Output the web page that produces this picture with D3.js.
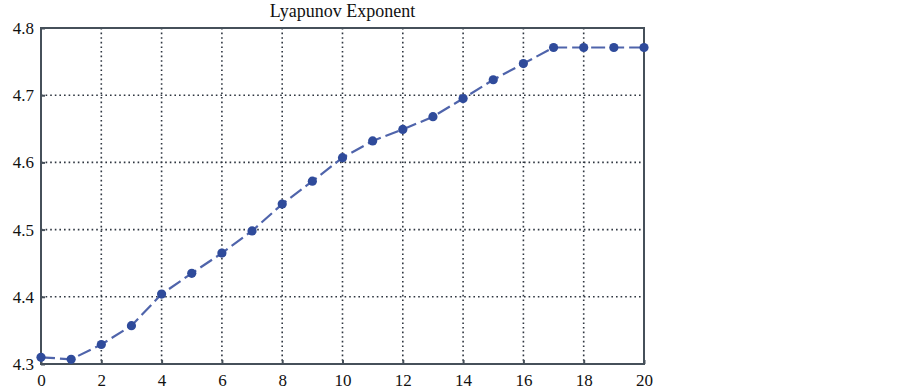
<!DOCTYPE html>
<html>
<head>
<meta charset="utf-8">
<script src="https://cdn.jsdelivr.net/npm/d3@7"></script>
<style>
  html, body { margin: 0; padding: 0; background: #fff; }
  svg { display: block; }
</style>
</head>
<body>
<div id="chart"></div>
<script>
(function () {
  "use strict";

  // ── Datos ─────────────────────────────────────────────
  const iterations = d3.range(0, 21);
  const lyapunov = [4.310, 4.307, 4.329, 4.357, 4.404, 4.435, 4.465, 4.498, 4.538, 4.572,
    4.607, 4.632, 4.649, 4.668, 4.695, 4.723, 4.747, 4.771, 4.771, 4.771, 4.771];
  const xTicks = [0, 2, 4, 6, 8, 10, 12, 14, 16, 18, 20];
  const yTicks = [4.3, 4.4, 4.5, 4.6, 4.7, 4.8];
  const title = "Lyapunov Exponent";

  // ── Setup SVG ─────────────────────────────────────────
  const width = 903, height = 389;
  const M = { top: 28, right: 259, bottom: 25, left: 41 };
  const innerW = width - M.left - M.right;
  const innerH = height - M.top - M.bottom;

  const svg = d3.select("#chart").append("svg").attr("width", width).attr("height", height);
  const g = svg.append("g").attr("transform", `translate(${M.left},${M.top})`);

  const x = d3.scaleLinear().domain([0, 20]).range([0, innerW]);
  const y = d3.scaleLinear().domain([4.3, 4.8]).range([innerH, 0]);

  const FONT = "'Liberation Serif', 'Times New Roman', serif";
  const AXIS_COL = "#46505a";

  // Rejilla punteada
  g.append("g").selectAll("line").data(xTicks.slice(1, -1)).join("line")
    .attr("x1", (d) => x(d)).attr("x2", (d) => x(d))
    .attr("y1", 0).attr("y2", innerH)
    .attr("stroke", "#2f3640").attr("stroke-width", 1.6).attr("stroke-dasharray", "1.6,3");
  g.append("g").selectAll("line").data(yTicks.slice(1, -1)).join("line")
    .attr("y1", (d) => y(d)).attr("y2", (d) => y(d))
    .attr("x1", 0).attr("x2", innerW)
    .attr("stroke", "#2f3640").attr("stroke-width", 1.6).attr("stroke-dasharray", "1.6,3");

  // Ejes
  const gx = g.append("g").attr("transform", `translate(0,${innerH})`)
    .call(d3.axisBottom(x).tickValues(xTicks).tickSize(-4).tickPadding(10).tickFormat(d3.format("d")));
  const gy = g.append("g")
    .call(d3.axisLeft(y).tickValues(yTicks).tickSize(-4).tickPadding(7).tickFormat(d3.format(".1f")));
  [gx, gy].forEach((ax) => {
    ax.select(".domain").remove();
    ax.selectAll(".tick line").attr("stroke", AXIS_COL).attr("stroke-width", 2);
    ax.selectAll(".tick text").attr("font-family", FONT).attr("font-size", "17px").attr("fill", "#111");
  });

  // Marco
  g.append("rect").attr("x", 0).attr("y", 0).attr("width", innerW).attr("height", innerH)
    .attr("fill", "none").attr("stroke", AXIS_COL).attr("stroke-width", 2);

  // Serie
  const line = d3.line().x((d, i) => x(iterations[i])).y((d) => y(d));
  g.append("path").datum(lyapunov).attr("d", line)
    .attr("fill", "none").attr("stroke", "#4f64ab").attr("stroke-width", 2.2)
    .attr("stroke-dasharray", "14,5");

  g.append("g").selectAll("circle").data(lyapunov).join("circle")
    .attr("cx", (d, i) => x(iterations[i])).attr("cy", (d) => y(d))
    .attr("r", 4.6).attr("fill", "#2f4b9b");

  // Título
  svg.append("text").attr("x", M.left + innerW / 2).attr("y", 17)
    .attr("text-anchor", "middle").attr("font-family", FONT).attr("font-size", "18px")
    .attr("fill", "#111").text(title);
})();
</script>
</body>
</html>
